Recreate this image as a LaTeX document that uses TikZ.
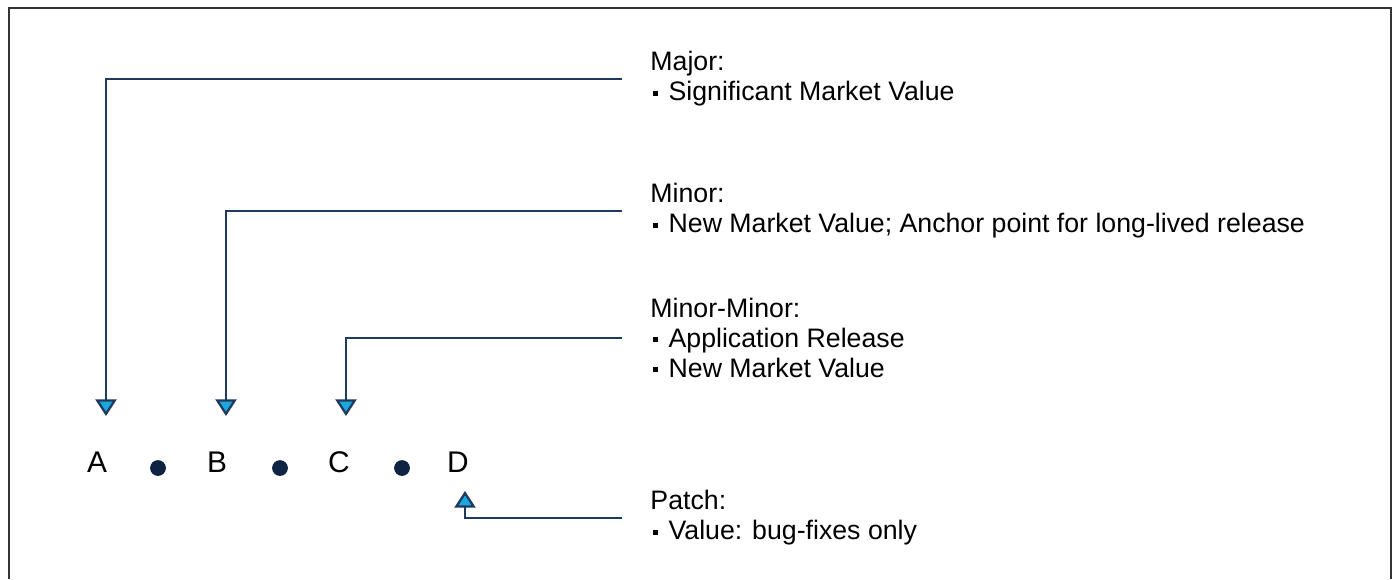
\documentclass[tikz,border=0pt]{standalone}
\usepackage{fontspec}
\setmainfont{Liberation Sans}
\usetikzlibrary{arrows.meta}

\definecolor{linenavy}{HTML}{1F3A5F}
\definecolor{dotnavy}{HTML}{0F2444}
\definecolor{tipcyan}{HTML}{1BA8DF}
\definecolor{framegray}{HTML}{333333}

\newcommand{\sqbullet}{\hspace{0.1em}\raisebox{0.2em}{\rule{0.18em}{0.18em}}\hspace{0.4em}}

\begin{document}
\begin{tikzpicture}[x=0.02cm,y=-0.02cm]

\tikzset{letter/.style = {font=\fontsize{17}{20}\selectfont, inner sep=0pt}}
\tikzset{dot/.style = {shape=circle, fill=dotnavy, inner sep=0pt, minimum size=9pt}}
\tikzset{note/.style = {anchor=west, align=left, inner xsep=16pt, inner ysep=0pt, font=\fontsize{15.2}{17}\selectfont}}
\tikzset{edge/.style = {draw=linenavy, line width=1.3pt, -{Triangle[width=12pt,length=9.5pt,fill=tipcyan]}}}

\useasboundingbox (0,0) rectangle (1395,579);
\draw[framegray, line width=1.6pt] (9,579) -- (9,8) -- (1391,8) -- (1391,579);

% versions
\node[letter] (A) at (97,462) {A};
\node[dot] (d1) at (158,468) {};
\node[letter] (B) at (217,462) {B};
\node[dot] (d2) at (280,468) {};
\node[letter] (C) at (339,462) {C};
\node[dot] (d3) at (402,468) {};
\node[letter] (D) at (458,462) {D};

% arrow tips
\coordinate (tipA) at (106,416);
\coordinate (tipB) at (226,416);
\coordinate (tipC) at (346,416);
\coordinate (tipD) at (465,491);

% notes
\node[note] (major) at (622,79) {Major:\\\sqbullet Significant Market Value};
\node[note] (minor) at (622,211) {Minor:\\\sqbullet New Market Value; Anchor point for long-lived release};
\node[note] (minmin) at (622,338) {Minor-Minor:\\\sqbullet Application Release\\\sqbullet New Market Value};
\node[note] (patch) at (622,518) {Patch:\\\sqbullet Value: bug-fixes only};

%edges
\draw[edge] (major.west) -| (tipA);
\draw[edge] (minor.west) -| (tipB);
\draw[edge] (minmin.west) -| (tipC);
\draw[edge] (patch.west) -| (tipD);

\end{tikzpicture}
\end{document}
